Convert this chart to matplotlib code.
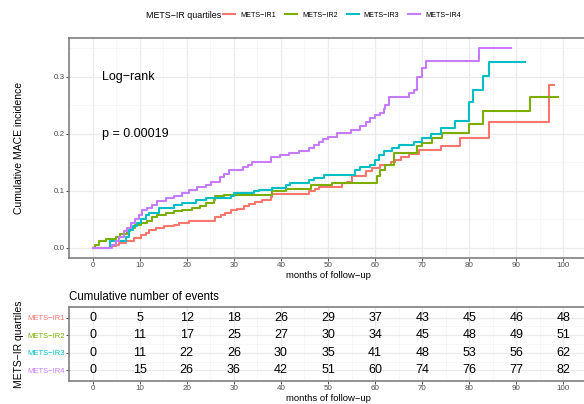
import numpy as np
import matplotlib
matplotlib.use("Agg")
import matplotlib.pyplot as plt
from matplotlib.lines import Line2D

plt.rcParams['font.family'] = ['Liberation Sans', 'DejaVu Sans']

groups = ["METS−IR1", "METS−IR2", "METS−IR3", "METS−IR4"]
colors = ["#F8766D", "#7CAE00", "#00BFC4", "#C77CFF"]

# step curves (month, cumulative incidence)
t_ir1 = [0, 3.8, 4.9, 5.6, 7.0, 8.8, 10.2, 11.3, 12.0, 13.4, 15.1, 17.3, 18.3, 20.4, 26.1, 27.2, 28.2,
         29.3, 30.7, 32.1, 33.2, 34.6, 36.0, 37.8, 38.1, 45.9, 47.3, 48.0, 53.0, 54.0, 55.1, 58.0, 59.4,
         61.1, 63.3, 64.3, 65.4, 67.2, 69.3, 74.0, 78.1, 84.1, 96.9, 97.9]
v_ir1 = [0, 0.003, 0.006, 0.009, 0.012, 0.017, 0.023, 0.026, 0.032, 0.035, 0.038, 0.041, 0.044, 0.048,
         0.055, 0.058, 0.062, 0.066, 0.068, 0.073, 0.077, 0.080, 0.084, 0.090, 0.095, 0.099, 0.103, 0.107,
         0.113, 0.116, 0.126, 0.134, 0.140, 0.146, 0.150, 0.154, 0.159, 0.165, 0.171, 0.179, 0.192, 0.221,
         0.285, 0.285]

t_ir2 = [0, 0.6, 1.3, 2.8, 4.9, 5.9, 7.4, 8.0, 9.1, 10.2, 11.6, 12.7, 13.7, 15.5, 17.3, 19.0, 21.2, 22.9,
         24.0, 25.8, 26.1, 27.9, 38.1, 41.0, 46.3, 50.9, 60.4, 61.1, 62.2, 64.0, 68.9, 70.0, 72.1, 74.2,
         79.9, 82.9, 92.8, 98.9]
v_ir2 = [0, 0.006, 0.012, 0.015, 0.020, 0.024, 0.029, 0.035, 0.040, 0.044, 0.048, 0.054, 0.058, 0.061,
         0.064, 0.067, 0.070, 0.073, 0.078, 0.084, 0.091, 0.093, 0.099, 0.103, 0.110, 0.114, 0.126, 0.137,
         0.146, 0.166, 0.178, 0.184, 0.192, 0.202, 0.217, 0.239, 0.265, 0.265]

t_ir3 = [0, 3.8, 7.0, 7.7, 8.5, 9.5, 10.2, 11.3, 12.0, 14.1, 17.2, 19.0, 21.9, 24.0, 29.3, 30.0, 34.2,
         35.3, 38.1, 41.0, 42.0, 45.9, 47.0, 49.1, 55.8, 56.9, 59.0, 60.0, 60.8, 61.8, 63.6, 65.0, 68.2,
         70.0, 71.8, 73.9, 76.9, 79.9, 80.8, 82.9, 84.1, 91.9]
v_ir3 = [0, 0.012, 0.019, 0.032, 0.038, 0.044, 0.050, 0.058, 0.061, 0.070, 0.076, 0.079, 0.084, 0.087,
         0.091, 0.096, 0.099, 0.102, 0.105, 0.110, 0.113, 0.119, 0.122, 0.128, 0.137, 0.142, 0.146, 0.154,
         0.163, 0.169, 0.175, 0.181, 0.186, 0.192, 0.200, 0.210, 0.223, 0.256, 0.277, 0.301, 0.326, 0.326]

t_ir4 = [0, 4.2, 4.9, 5.6, 6.6, 7.4, 8.1, 9.1, 9.8, 10.6, 11.6, 12.7, 13.7, 15.5, 17.3, 19.0, 20.4, 22.2,
         24.0, 25.1, 27.0, 27.9, 29.0, 32.0, 33.0, 33.9, 37.8, 39.9, 41.7, 43.8, 45.9, 47.0, 48.0, 49.0,
         50.1, 52.0, 54.8, 56.9, 58.0, 59.0, 60.0, 61.1, 61.8, 62.2, 62.9, 67.2, 68.2, 68.9, 70.0, 70.9,
         82.0, 88.9]
v_ir4 = [0, 0.006, 0.012, 0.020, 0.029, 0.035, 0.044, 0.050, 0.058, 0.066, 0.070, 0.076, 0.082, 0.087,
         0.091, 0.096, 0.102, 0.107, 0.111, 0.115, 0.125, 0.130, 0.136, 0.142, 0.145, 0.151, 0.159, 0.163,
         0.167, 0.170, 0.175, 0.181, 0.186, 0.190, 0.195, 0.201, 0.206, 0.213, 0.221, 0.227, 0.233, 0.237,
         0.243, 0.250, 0.265, 0.271, 0.277, 0.300, 0.315, 0.327, 0.350, 0.350]

# cumulative number of events table
table_times = [0, 10, 20, 30, 40, 50, 60, 70, 80, 90, 100]
events_ir1 = [0, 5, 12, 18, 26, 29, 37, 43, 45, 46, 48]
events_ir2 = [0, 11, 17, 25, 27, 30, 34, 45, 48, 49, 51]
events_ir3 = [0, 11, 22, 26, 30, 35, 41, 48, 53, 56, 62]
events_ir4 = [0, 15, 26, 36, 42, 51, 60, 74, 76, 77, 82]

curves = [(t_ir1, v_ir1), (t_ir2, v_ir2), (t_ir3, v_ir3), (t_ir4, v_ir4)]
events = [events_ir1, events_ir2, events_ir3, events_ir4]

W, H = 584, 404
fig = plt.figure(figsize=(W / 100, H / 100), dpi=100)

def px_axes(l, t, r, b):
    return fig.add_axes([l / W, 1 - b / H, (r - l) / W, (b - t) / H])

grid_major = dict(color="#EBEBEB", lw=0.9)
grid_minor = dict(color="#F4F4F4", lw=0.5)
border_col = "#7F7F7F"

def style_axes(ax):
    for s in ax.spines.values():
        s.set_color(border_col)
        s.set_linewidth(1.2)
    ax.tick_params(axis="both", colors="#333333", labelcolor="#4D4D4D", labelsize=5.8,
                   length=2, width=0.6, pad=1)
    ax.set_axisbelow(True)

# --- top panel ---
ax = px_axes(69, 38, 587, 258)
style_axes(ax)
xmaj = np.arange(0, 101, 10)
for x in xmaj:
    ax.axvline(x, **grid_major, zorder=0)
for x in xmaj[:-1] + 5:
    ax.axvline(x, **grid_minor, zorder=0)
for y in [0, 0.1, 0.2, 0.3]:
    ax.axhline(y, **grid_major, zorder=0)
for y in [0.05, 0.15, 0.25, 0.35]:
    ax.axhline(y, **grid_minor, zorder=0)

for (t, v), c in zip(curves, colors):
    ax.step(t, v, where="post", color=c, lw=1.5, zorder=3)

ax.set_xlim(-5, 105)
ax.set_ylim(-0.0175, 0.3675)
ax.set_xticks(xmaj)
ax.set_yticks([0, 0.1, 0.2, 0.3])
ax.set_yticklabels(["0.0", "0.1", "0.2", "0.3"])
ax.set_xlabel("months of follow−up", fontsize=6.8, labelpad=1.5)
ax.set_ylabel("Cumulative MACE incidence", fontsize=7.5)
ax.yaxis.set_label_coords((24 - 69) / 518, 0.5)
ax.text(2, 0.3, "Log−rank", fontsize=9, va="center", ha="left")
ax.text(2, 0.2, "p = 0.00019", fontsize=9, va="center", ha="left")

# legend
fig.text(146 / W, 1 - 15 / H, "METS−IR quartiles", fontsize=6.4, va="center", ha="left")
handles = [Line2D([0], [0], color=c, lw=1.5) for c in colors]
fig.legend(handles, groups, loc="center left", bbox_to_anchor=(223 / W, 1 - 15 / H), ncol=4,
           frameon=False, fontsize=5.2, handlelength=1.67, handletextpad=0.7, columnspacing=1.25,
           borderaxespad=0, borderpad=0)

# --- table panel ---
tb = px_axes(69, 307, 587, 381)
style_axes(tb)
for x in xmaj:
    tb.axvline(x, **grid_major, zorder=0)
for x in xmaj[:-1] + 5:
    tb.axvline(x, **grid_minor, zorder=0)
rows_y = [4, 3, 2, 1]
for y in rows_y:
    tb.axhline(y, **grid_major, zorder=0)
for y in [1.5, 2.5, 3.5]:
    tb.axhline(y, **grid_minor, zorder=0)
for ev, y in zip(events, rows_y):
    for x, n in zip(table_times, ev):
        tb.text(x, y, str(n), fontsize=9, ha="center", va="center", color="black")
tb.set_xlim(-5, 105)
tb.set_ylim(0.4, 4.6)
tb.set_xticks(xmaj)
tb.set_yticks(rows_y)
tb.set_yticklabels(groups)
for lab, c in zip(tb.get_yticklabels(), colors):
    lab.set_color(c)
    lab.set_fontsize(5.5)
tb.set_xlabel("months of follow−up", fontsize=6.8, labelpad=1)
tb.set_ylabel("METS−IR quartiles", fontsize=7.5)
tb.yaxis.set_label_coords((24 - 69) / 518, 0.5)
tb.set_title("Cumulative number of events", fontsize=8.3, loc="left", pad=5)

fig.savefig("out.png", dpi=100)
